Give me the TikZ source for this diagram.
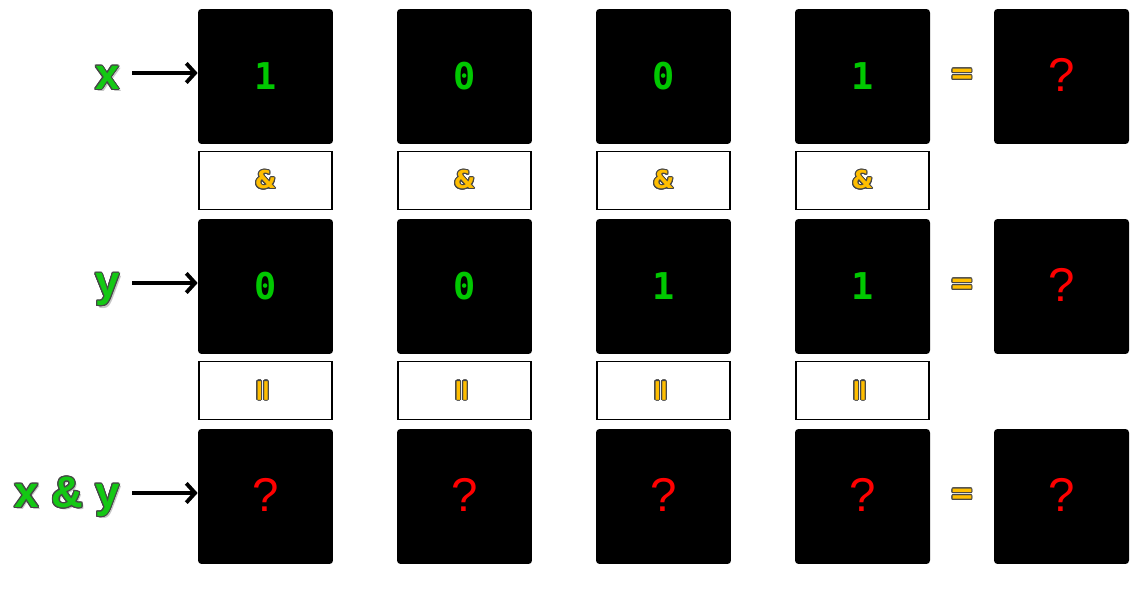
\documentclass[tikz,border=0pt]{standalone}
\usepackage{fontspec}
\usepackage{contour}
\usetikzlibrary{arrows.meta}
\setmainfont{Liberation Sans}
\newfontfamily\bitfont{DejaVu Sans Mono}
\newfontfamily\opfont{DejaVu Sans}
\definecolor{bitgreen}{RGB}{0,200,0}
\definecolor{labgreen}{RGB}{20,200,20}
\definecolor{opyellow}{RGB}{255,190,0}
\definecolor{rimgray}{RGB}{70,70,70}
\contourlength{0.6pt}
\newcommand\opsym[1]{\contour{rimgray}{#1}}
\newcommand\labtext[1]{\makebox[0pt][l]{\hspace{1.3pt}\raisebox{-1.3pt}{\textcolor{gray!45}{#1}}}\contour{rimgray}{#1}}
\tikzset{
  cell/.style={fill=black, rounded corners=2pt, minimum size=2.7cm, inner sep=0pt},
  opbox/.style={draw, line width=0.6pt, fill=white, minimum width=2.66cm, minimum height=1.17cm, inner sep=0pt},
  bit/.style={text=bitgreen, font=\bitfont\bfseries\fontsize{21}{21}\selectfont},
  ask/.style={text=red, font=\fontsize{27}{27}\selectfont},
  op/.style={text=opyellow, font=\opfont\bfseries\fontsize{17}{17}\selectfont},
  amp/.style={op, font=\opfont\bfseries\fontsize{14}{14}\selectfont},
  lab/.style={text=labgreen, font=\bfseries\fontsize{25}{25}\selectfont, inner sep=0pt, anchor=east},
  arr/.style={-{Straight Barb[length=5pt, width=11pt]}, line width=2.2pt, shorten <=0.24cm}
}
\newcommand\qm{\raisebox{2pt}{?}}
\begin{document}
\begin{tikzpicture}[x=0.02cm, y=-0.02cm]
  \useasboundingbox (0,0) rectangle (1145,590);
  % first row: x
  \foreach \b [count=\i from 0] in {1,0,0,1}
    \node[cell, bit] (x\i) at ({265.5+199*\i},76.5) {\b};
  \node[cell, ask] (xr) at (1061.5,76.5) {\qm};
  \node[op] (xeq) at (962,77) {\opsym{=}};
  % and signs
  \foreach \i in {0,...,3}
    \node[opbox, amp] (a\i) at ({265.5+199*\i},180.5) {\opsym{\&}};
  % second row: y
  \foreach \b [count=\i from 0] in {0,0,1,1}
    \node[cell, bit] (y\i) at ({265.5+199*\i},286.5) {\b};
  \node[cell, ask] (yr) at (1061.5,286.5) {\qm};
  \node[op] (yeq) at (962,287) {\opsym{=}};
  % equal signs
  \foreach \i in {0,...,3}
    \node[opbox, op] (e\i) at ({265.5+199*\i},390.5) {\rotatebox{90}{\opsym{=}}};
  % third row: x & y
  \foreach \i in {0,...,3}
    \node[cell, ask] (z\i) at ({265.5+199*\i},496.5) {\qm};
  \node[cell, ask] (zr) at (1061.5,496.5) {\qm};
  \node[op] (zeq) at (962,497) {\opsym{=}};
  % row labels
  \node[lab] (lx) at (120,79) {\labtext{x}};
  \node[lab] (ly) at (120,291) {\labtext{y}};
  \node[lab] (lz) at (120,498) {\labtext{x \& y}};
  \draw[arr] (lx.east |- x0.west) ++(0,-3.5) -- ([yshift=0.07cm]x0.west);
  \draw[arr] (lx.east |- y0.west) ++(0,-3.5) -- ([yshift=0.07cm]y0.west);
  \draw[arr] (lx.east |- z0.west) ++(0,-3.5) -- ([yshift=0.07cm]z0.west);
\end{tikzpicture}
\end{document}
